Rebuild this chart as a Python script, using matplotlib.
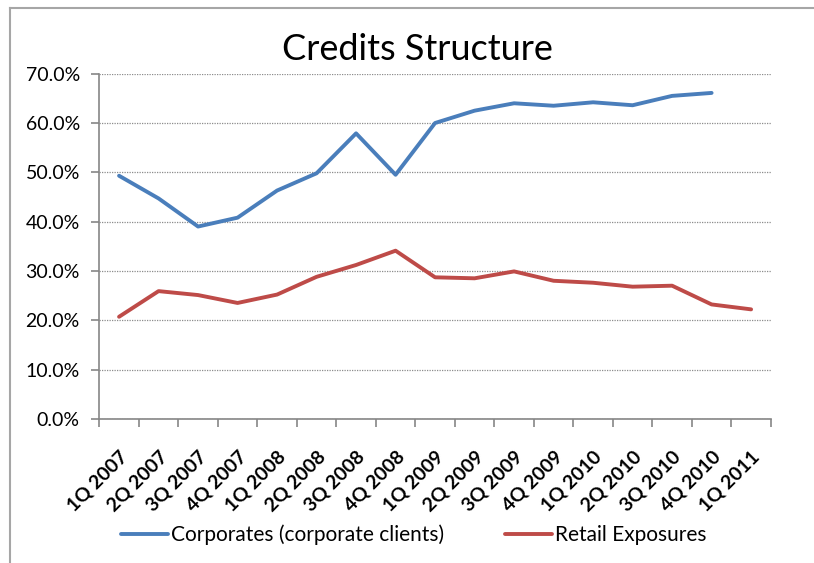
import matplotlib
matplotlib.use("Agg")
import matplotlib.pyplot as plt
from matplotlib.lines import Line2D
from matplotlib.ticker import FuncFormatter, MultipleLocator

# quarterly credit structure shares (%)
quarters = ["1Q 2007", "2Q 2007", "3Q 2007", "4Q 2007",
            "1Q 2008", "2Q 2008", "3Q 2008", "4Q 2008",
            "1Q 2009", "2Q 2009", "3Q 2009", "4Q 2009",
            "1Q 2010", "2Q 2010", "3Q 2010", "4Q 2010", "1Q 2011"]
corporates = [49.3, 44.7, 39.0, 40.8, 46.3, 49.8, 57.9, 49.5,
              60.0, 62.5, 64.0, 63.5, 64.2, 63.6, 65.5, 66.1]
retail = [20.7, 25.9, 25.1, 23.5, 25.2, 28.8, 31.2, 34.1,
          28.7, 28.5, 29.9, 28.0, 27.6, 26.8, 27.0, 23.2, 22.2]

plt.rcParams['font.family'] = ['Lato', 'DejaVu Sans']

fig = plt.figure(figsize=(8.14, 5.63), dpi=100)
ax = fig.add_axes([0.122, 0.2561, 0.825, 0.613])

blue = '#4A7EBB'
red = '#BE4B48'
ax.plot(range(len(corporates)), corporates, color=blue, lw=2.8,
        solid_capstyle='round', label='Corporates (corporate clients)')
ax.plot(range(len(retail)), retail, color=red, lw=2.8,
        solid_capstyle='round', label='Retail Exposures')

ax.set_xlim(-0.5, len(quarters) - 0.5)
ax.set_ylim(0, 70)
ax.yaxis.set_major_locator(MultipleLocator(10))
ax.yaxis.set_major_formatter(FuncFormatter(lambda v, p: f"{v:.1f}%"))
ax.grid(axis='y', color='#8c8c8c', linestyle=(0, (1, 1)), lw=0.9)

# category ticks sit between the quarters
ax.set_xticks([i - 0.5 for i in range(len(quarters) + 1)])
ax.set_xticklabels([])
ax.set_xticks(range(len(quarters)), minor=True)
ax.set_xticklabels(quarters, minor=True, rotation=45, ha='right',
                   rotation_mode='anchor', fontweight='bold', fontsize=14)
ax.tick_params(axis='x', which='minor', length=0, pad=21)
ax.tick_params(axis='x', which='major', length=6, color='#868686', width=1.2)
ax.tick_params(axis='y', length=6, color='#868686', width=1.2, labelsize=14, pad=8)

for s in ['top', 'right']:
    ax.spines[s].set_visible(False)
for s in ['left', 'bottom']:
    ax.spines[s].set_color('#868686')
    ax.spines[s].set_linewidth(1.2)

fig.text(0.513, 0.912, 'Credits Structure', ha='center', va='center', fontsize=26)

fig.legend(loc='center', bbox_to_anchor=(0.508, 0.05), ncol=2, frameon=False,
           fontsize=15, handlelength=2.3, handletextpad=0.12, columnspacing=2.9)

# chart frame
fig.add_artist(Line2D([10 / 814, 1], [1 - 8 / 563, 1 - 8 / 563],
                      transform=fig.transFigure, color='#a6a6a6', lw=1.5))
fig.add_artist(Line2D([10 / 814, 10 / 814], [0, 1 - 8 / 563],
                      transform=fig.transFigure, color='#a6a6a6', lw=1.5))

fig.savefig('out.png', dpi=100)
